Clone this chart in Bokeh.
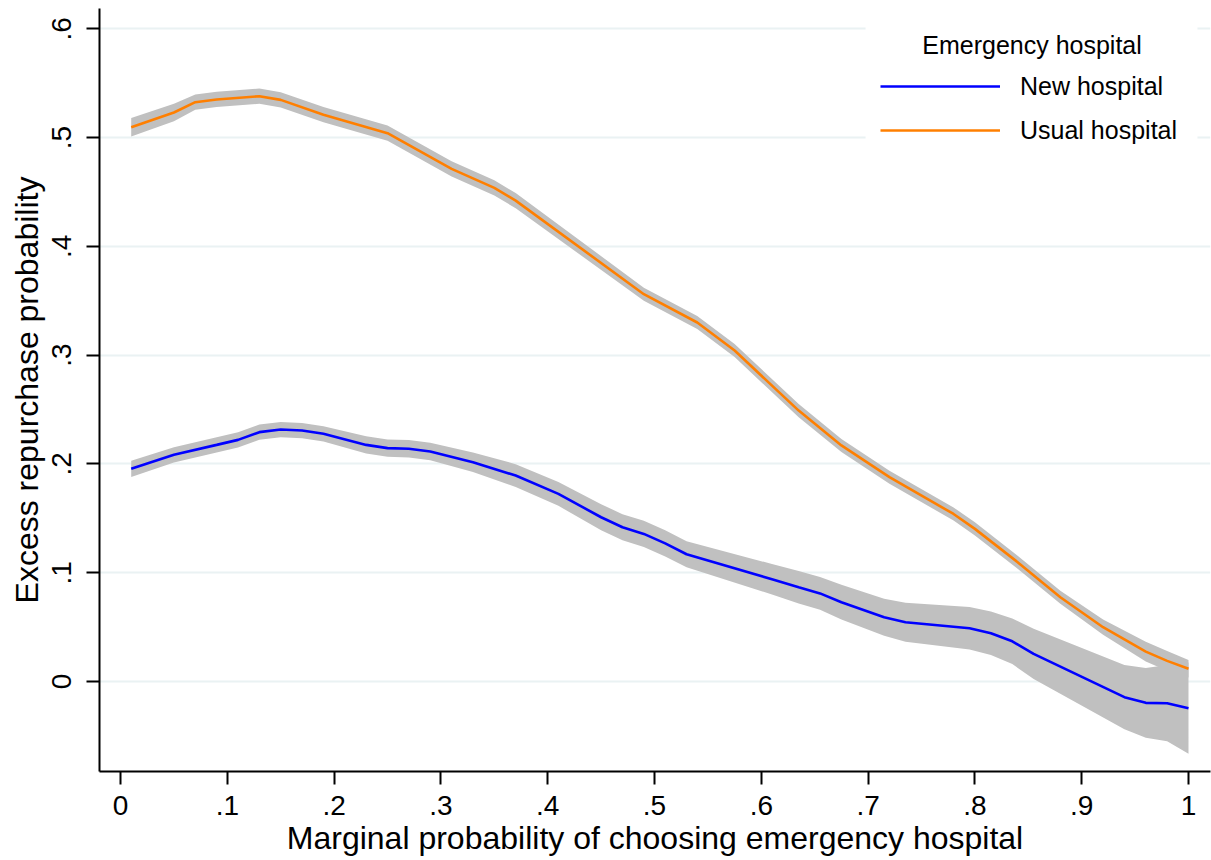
from bokeh.plotting import figure
from bokeh.models import FixedTicker, Range1d
from bokeh.core.properties import value
from bokeh.embed import file_html
from bokeh.resources import INLINE

# ---------------- data ----------------
usual_x = [0.01, 0.05, 0.07, 0.09, 0.13, 0.15, 0.19, 0.25, 0.31, 0.35, 0.37,
           0.49, 0.54, 0.575, 0.635, 0.675, 0.72, 0.78, 0.80, 0.84, 0.88,
           0.92, 0.96, 0.98, 1.00]
usual_y = [0.5095, 0.523, 0.5325, 0.535, 0.538, 0.5346, 0.521, 0.504, 0.4712,
           0.4537, 0.442, 0.356, 0.330, 0.3042, 0.249, 0.217, 0.1878, 0.154,
           0.1403, 0.1097, 0.0775, 0.0499, 0.0275, 0.019, 0.0117]
usual_lo = [0.501, 0.515, 0.5255, 0.528, 0.531, 0.5276, 0.514, 0.497, 0.4642,
            0.4467, 0.435, 0.350, 0.324, 0.2982, 0.243, 0.211, 0.1818, 0.148,
            0.1343, 0.1037, 0.0715, 0.0429, 0.0185, 0.010, 0.0037]
usual_hi = [0.518, 0.531, 0.5395, 0.542, 0.545, 0.5416, 0.528, 0.511, 0.4782,
            0.4607, 0.449, 0.362, 0.336, 0.3102, 0.255, 0.223, 0.1938, 0.160,
            0.1463, 0.1157, 0.0835, 0.0569, 0.0365, 0.028, 0.0197]

new_x = [0.01, 0.05, 0.09, 0.11, 0.13, 0.15, 0.17, 0.19, 0.23, 0.25, 0.27,
         0.29, 0.33, 0.37, 0.41, 0.45, 0.47, 0.49, 0.51, 0.53, 0.61, 0.635,
         0.655, 0.675, 0.715, 0.735, 0.795, 0.815, 0.835, 0.855, 0.94, 0.96,
         0.98, 1.00]
new_y = [0.1955, 0.2084, 0.2175, 0.2221, 0.2292, 0.2316, 0.2307, 0.2277,
         0.2175, 0.2145, 0.2139, 0.2114, 0.2016, 0.1893, 0.1725, 0.151, 0.1418,
         0.1357, 0.127, 0.117, 0.094, 0.0867, 0.081, 0.0729, 0.059, 0.0545,
         0.049, 0.0444, 0.037, 0.0254, -0.0144, -0.0196, -0.0199, -0.0245]
new_lo = [0.188, 0.2014, 0.2105, 0.2151, 0.2222, 0.2246, 0.2237, 0.2207,
          0.2095, 0.2065, 0.2059, 0.2034, 0.1926, 0.1788, 0.1615, 0.139,
          0.1298, 0.1237, 0.115, 0.105, 0.080, 0.0717, 0.066, 0.0569, 0.042,
          0.0365, 0.0295, 0.0244, 0.016, 0.0024, -0.0439, -0.0516, -0.0549,
          -0.0665]
new_hi = [0.203, 0.2154, 0.2245, 0.2291, 0.2362, 0.2386, 0.2377, 0.2347,
          0.2255, 0.2225, 0.2219, 0.2194, 0.2106, 0.1998, 0.1835, 0.163,
          0.1538, 0.1477, 0.139, 0.129, 0.108, 0.1017, 0.096, 0.0889, 0.076,
          0.0725, 0.0685, 0.0644, 0.058, 0.0484, 0.0151, 0.0124, 0.0151, 0.0175]

x_ticks = [0, 0.1, 0.2, 0.3, 0.4, 0.5, 0.6, 0.7, 0.8, 0.9, 1]
x_labels = ["0", ".1", ".2", ".3", ".4", ".5", ".6", ".7", ".8", ".9", "1"]
y_ticks = [0, 0.1, 0.2, 0.3, 0.4, 0.5, 0.6]
y_labels = ["0", ".1", ".2", ".3", ".4", ".5", ".6"]

series_names = ["New hospital", "Usual hospital"]
legend_title = "Emergency hospital"
x_title = "Marginal probability of choosing emergency hospital"
y_title = "Excess repurchase probability"

# ---------------- layout constants (not data) ----------------
X_RANGE = (-0.0197, 1.0206)
Y_RANGE = (-0.0827, 0.6186)
LEGEND_BOX = dict(left=0.6976, right=1.0084, top=0.6186, bottom=0.4789)
LEGEND_TITLE_POS = (0.8535, 0.5846)

# ---------------- figure ----------------
FONT = "Liberation Sans"
p = figure(width=1211, height=860, output_backend="svg", toolbar_location=None,
           x_range=Range1d(*X_RANGE), y_range=Range1d(*Y_RANGE),
           min_border_left=99, min_border_bottom=89, min_border_top=8,
           min_border_right=1)
p.outline_line_color = None
p.background_fill_color = "white"
p.border_fill_color = "white"

# white panel behind the legend (hides the grid lines there)
p.quad(left=[LEGEND_BOX["left"]], right=[LEGEND_BOX["right"]],
       top=[LEGEND_BOX["top"]], bottom=[LEGEND_BOX["bottom"]],
       fill_color="white", line_color=None)
# legend title, centred over the legend
p.text(x=[LEGEND_TITLE_POS[0]], y=[LEGEND_TITLE_POS[1]], text=[legend_title],
       text_align="center", text_baseline="alphabetic",
       text_font=value(FONT), text_font_size="25px", text_color="black")

BAND = "#c0c0c0"
p.varea(x=new_x, y1=new_lo, y2=new_hi, fill_color=BAND)
p.varea(x=usual_x, y1=usual_lo, y2=usual_hi, fill_color=BAND)
p.line(new_x, new_y, line_color="#0000ff", line_width=2.6,
       legend_label=series_names[0])
p.line(usual_x, usual_y, line_color="#ff7f00", line_width=2.6,
       legend_label=series_names[1])

# grids
p.xgrid.visible = False
p.ygrid.grid_line_color = "#eaf2f3"
p.ygrid.grid_line_width = 2
p.ygrid.ticker = FixedTicker(ticks=y_ticks)

# axes
for ax in (p.xaxis[0], p.yaxis[0]):
    ax.axis_line_width = 2
    ax.axis_line_color = "black"
    ax.major_tick_out = 13
    ax.major_tick_in = 0
    ax.major_tick_line_width = 2
    ax.minor_tick_line_color = None
    ax.major_label_text_font = FONT
    ax.major_label_text_font_size = "28px"
    ax.major_label_text_color = "black"
    ax.axis_label_text_font = FONT
    ax.axis_label_text_font_size = "32px"
    ax.axis_label_text_font_style = "normal"
    ax.axis_label_text_color = "black"

p.xaxis.ticker = FixedTicker(ticks=x_ticks)
p.xaxis.major_label_overrides = dict(zip(x_ticks, x_labels))
p.xaxis.axis_label = x_title
p.xaxis.major_label_standoff = 11
p.xaxis.axis_label_standoff = 2

p.yaxis.ticker = FixedTicker(ticks=y_ticks)
p.yaxis.major_label_overrides = dict(zip(y_ticks, y_labels))
p.yaxis.major_label_orientation = "vertical"
p.yaxis.axis_label = y_title
p.yaxis.major_label_standoff = 15
p.yaxis.axis_label_standoff = 5

# legend (transparent; its title is invisible and only reserves space)
lg = p.legend[0]
lg.location = "top_right"
lg.title = legend_title
lg.title_text_font = FONT
lg.title_text_font_size = "25px"
lg.title_text_alpha = 0
lg.title_standoff = 19
lg.label_text_font = FONT
lg.label_text_font_size = "25px"
lg.label_text_color = "black"
lg.glyph_width = 120
lg.glyph_height = 30
lg.label_height = 30
lg.label_width = 175
lg.label_standoff = 20
lg.spacing = 14
lg.padding = 15
lg.margin = 15
lg.border_line_color = None
lg.background_fill_alpha = 0.0

open("out.html", "w").write(file_html(p, INLINE))
